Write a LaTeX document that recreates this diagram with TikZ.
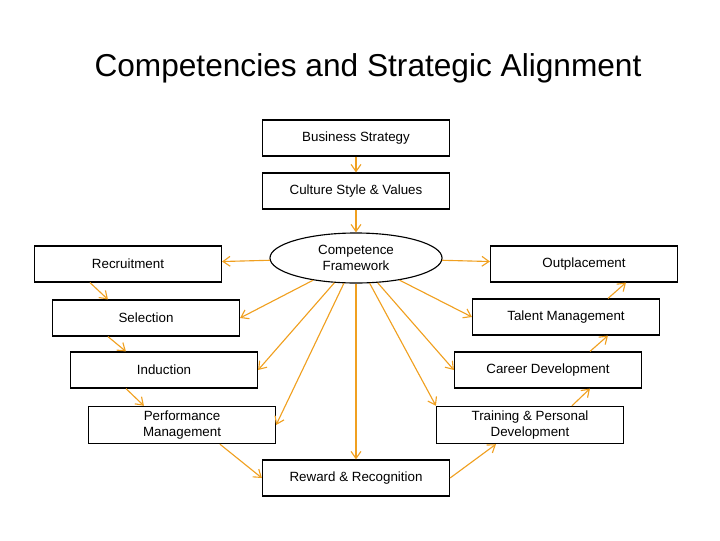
\documentclass[tikz,border=0pt]{standalone}
\usepackage{fontspec}
\setmainfont{Liberation Sans}
\usetikzlibrary{shapes.geometric}
\usetikzlibrary{arrows.meta}
\definecolor{arr}{HTML}{F0A020}
\tikzset{
  box/.style={draw, thick, minimum width=4.675cm, minimum height=0.9cm, font=\fontsize{9.5}{11}\selectfont, align=center},
  link/.style={draw=arr, thick, -{Straight Barb[length=5pt,width=7pt]}}
}
\begin{document}
\begin{tikzpicture}[x=0.025cm, y=-0.025cm]
\useasboundingbox (0,0) rectangle (720,540);
\node (title) at (368,68) {\fontsize{22.5}{26}\selectfont Competencies and Strategic Alignment};

\node[box] (bs) at (356,138) {Business Strategy};
\node[box] (cul) at (356,191) {Culture Style \& Values};
\node[draw, thick, ellipse, minimum width=4.3cm, minimum height=1.25cm, inner sep=0pt,
   font=\fontsize{9.5}{11}\selectfont, align=center] (cf) at (356,258) {Competence\\Framework};

\node[box] (rec) at (128,264) {Recruitment};
\node[box] (sel) at (146,318) {Selection};
\node[box] (ind) at (164,370) {Induction};
\node[box] (perf) at (182,425) {Performance\\Management};
\node[box] (rew) at (356,478) {Reward \& Recognition};
\node[box] (out) at (584,264) {Outplacement};
\node[box] (tal) at (566,317) {Talent Management};
\node[box] (car) at (548,370) {Career Development};
\node[box] (tra) at (530,425) {Training \& Personal\\Development};

\draw[link] (bs) -- (cul);
\draw[link] (cul) -- (cf);
\draw[link] (cf) -- (rec);
\draw[link] (cf) -- (out);
\draw[link] (cf) -- (sel.east);
\draw[link] (cf) -- (ind.east);
\draw[link] (cf) -- (perf.east);
\draw[link] (cf) -- (rew);
\draw[link] (cf) -- (tra.north west);
\draw[link] (cf) -- (car.west);
\draw[link] (cf) -- (tal.west);

% chain round the framework
\draw[link] ([xshift=1.4cm]rec.south west) -- ([xshift=1.4cm]sel.north west);
\draw[link] ([xshift=1.4cm]sel.south west) -- ([xshift=1.4cm]ind.north west);
\draw[link] ([xshift=1.4cm]ind.south west) -- ([xshift=1.4cm]perf.north west);
\draw[link] ([xshift=3.3cm]perf.south west) -- (rew.west);
\draw[link] (rew.east) -- ([xshift=1.5cm]tra.south west);
\draw[link] ([xshift=3.4cm]tra.north west) -- ([xshift=3.4cm]car.south west);
\draw[link] ([xshift=3.4cm]car.north west) -- ([xshift=3.4cm]tal.south west);
\draw[link] ([xshift=3.4cm]tal.north west) -- ([xshift=3.4cm]out.south west);
\end{tikzpicture}
\end{document}
